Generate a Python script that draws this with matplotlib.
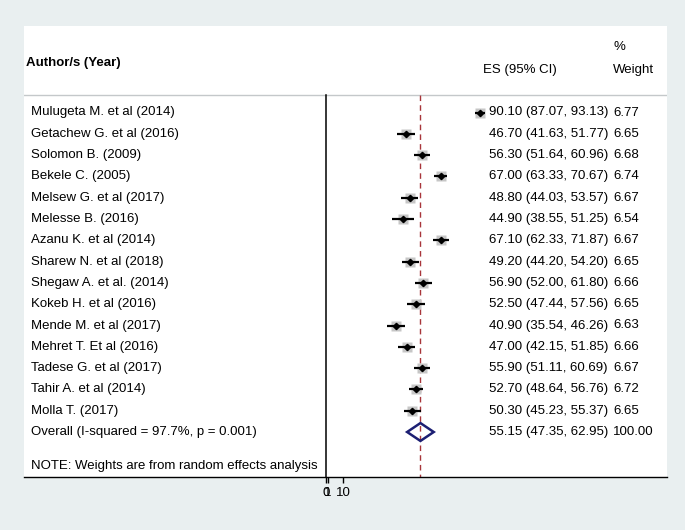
import matplotlib
matplotlib.use("Agg")
import matplotlib.pyplot as plt
from matplotlib.transforms import blended_transform_factory
import numpy as np

authors = ["Mulugeta M. et al (2014)", "Getachew G. et al (2016)", "Solomon B. (2009)",
           "Bekele C. (2005)", "Melsew G. et al (2017)", "Melesse B. (2016)",
           "Azanu K. et al (2014)", "Sharew N. et al (2018)", "Shegaw A. et al. (2014)",
           "Kokeb H. et al (2016)", "Mende M. et al (2017)", "Mehret T. Et al (2016)",
           "Tadese G. et al (2017)", "Tahir A. et al (2014)", "Molla T. (2017)"]
es = [90.10, 46.70, 56.30, 67.00, 48.80, 44.90, 67.10, 49.20, 56.90, 52.50, 40.90, 47.00, 55.90, 52.70, 50.30]
lo = [87.07, 41.63, 51.64, 63.33, 44.03, 38.55, 62.33, 44.20, 52.00, 47.44, 35.54, 42.15, 51.11, 48.64, 45.23]
hi = [93.13, 51.77, 60.96, 70.67, 53.57, 51.25, 71.87, 54.20, 61.80, 57.56, 46.26, 51.85, 60.69, 56.76, 55.37]
weights = [6.77, 6.65, 6.68, 6.74, 6.67, 6.54, 6.67, 6.65, 6.66, 6.65, 6.63, 6.66, 6.67, 6.72, 6.65]

overall_label = "Overall (I-squared = 97.7%, p = 0.001)"
overall_es, overall_lo, overall_hi, overall_w = 55.15, 47.35, 62.95, 100.00
note = "NOTE: Weights are from random effects analysis"
xticks = [0, 1, 10]
xticklabels = ["0", "1", "10"]

plt.rcParams['font.family'] = ['Liberation Sans', 'DejaVu Sans']
FS = 9.5

fig = plt.figure(figsize=(6.85, 5.30), dpi=100)
fig.patch.set_facecolor("#e9eff0")

W, H = 685.0, 530.0
x0, x1 = 24, 667
y_top, y_bot = 26, 477
ax = fig.add_axes([x0 / W, (H - y_bot) / H, (x1 - x0) / W, (y_bot - y_top) / H])
ax.set_facecolor("white")

# x scale: 0 at px 326.4, 1.705 px per unit
px0, k = 326.4, 1.705
ax.set_xlim((x0 - px0) / k, (x1 - px0) / k)
# y: row index, row0 at px 112.5, 21.3 px per row
r0, dr = 112.5, 21.3
ax.set_ylim((y_bot - r0) / dr, (y_top - r0) / dr)

n = len(authors)
rows = np.arange(n)
header_row = (95 - r0) / dr
ybottom = (y_bot - r0) / dr

# header separator
ax.axhline(header_row, color="#c4c8ca", lw=1.0, zorder=1)
# null line
ax.plot([0, 0], [header_row, ybottom], color="black", lw=1.1, zorder=2, clip_on=False)
# overall dashed line
ax.plot([overall_es, overall_es], [header_row, ybottom], color="#a8353a", lw=1.0,
        ls=(0, (4, 3)), zorder=2)

for i in range(n):
    ax.plot(es[i], rows[i], marker="s", ms=weights[i] * 1.05, color="#c6c6c6", mec="none", zorder=3)
    ax.plot([lo[i], hi[i]], [rows[i], rows[i]], color="black", lw=1.6, zorder=4, solid_capstyle="butt")
    ax.plot(es[i], rows[i], marker="D", ms=3.2, color="black", zorder=5)

orow = n
dh = 0.42
ax.fill([overall_lo, overall_es, overall_hi, overall_es],
        [orow, orow - dh, orow, orow + dh], facecolor="none", edgecolor="#1c1f73", lw=1.8, zorder=5)

tr = blended_transform_factory(ax.transAxes, ax.transData)
xa = (31 - x0) / (x1 - x0)
xes = (489 - x0) / (x1 - x0)
xw = (613 - x0) / (x1 - x0)
for i in range(n):
    ax.text(xa, rows[i], authors[i], transform=tr, fontsize=FS, va="center", ha="left")
    ax.text(xes, rows[i], f"{es[i]:.2f} ({lo[i]:.2f}, {hi[i]:.2f})", transform=tr, fontsize=FS, va="center", ha="left")
    ax.text(xw, rows[i], f"{weights[i]:.2f}", transform=tr, fontsize=FS, va="center", ha="left")
ax.text(xa, orow, overall_label, transform=tr, fontsize=FS, va="center", ha="left")
ax.text(xes, orow, f"{overall_es:.2f} ({overall_lo:.2f}, {overall_hi:.2f})", transform=tr, fontsize=FS, va="center", ha="left")
ax.text(xw, orow, f"{overall_w:.2f}", transform=tr, fontsize=FS, va="center", ha="left")
ax.text(xa, (466 - r0) / dr, note, transform=tr, fontsize=FS, va="center", ha="left")

# headers
ax.text((26 - x0) / (x1 - x0), (63 - r0) / dr, "Author/s (Year)", transform=tr, fontsize=FS,
        fontweight="bold", va="center", ha="left")
ax.text((483 - x0) / (x1 - x0), (70 - r0) / dr, "ES (95% CI)", transform=tr, fontsize=FS, va="center", ha="left")
ax.text(xw, (47 - r0) / dr, "%", transform=tr, fontsize=FS, va="center", ha="left")
ax.text(xw, (70 - r0) / dr, "Weight", transform=tr, fontsize=FS, va="center", ha="left")

for s in ["top", "left", "right"]:
    ax.spines[s].set_visible(False)
ax.spines["bottom"].set_color("black")
ax.spines["bottom"].set_linewidth(1.0)
ax.set_yticks([])
ax.set_xticks(xticks)
ax.set_xticklabels(xticklabels, fontsize=FS)
ax.tick_params(axis="x", direction="out", length=4.5, width=1.0, pad=3)

fig.savefig("out.png", dpi=100, facecolor=fig.get_facecolor())
